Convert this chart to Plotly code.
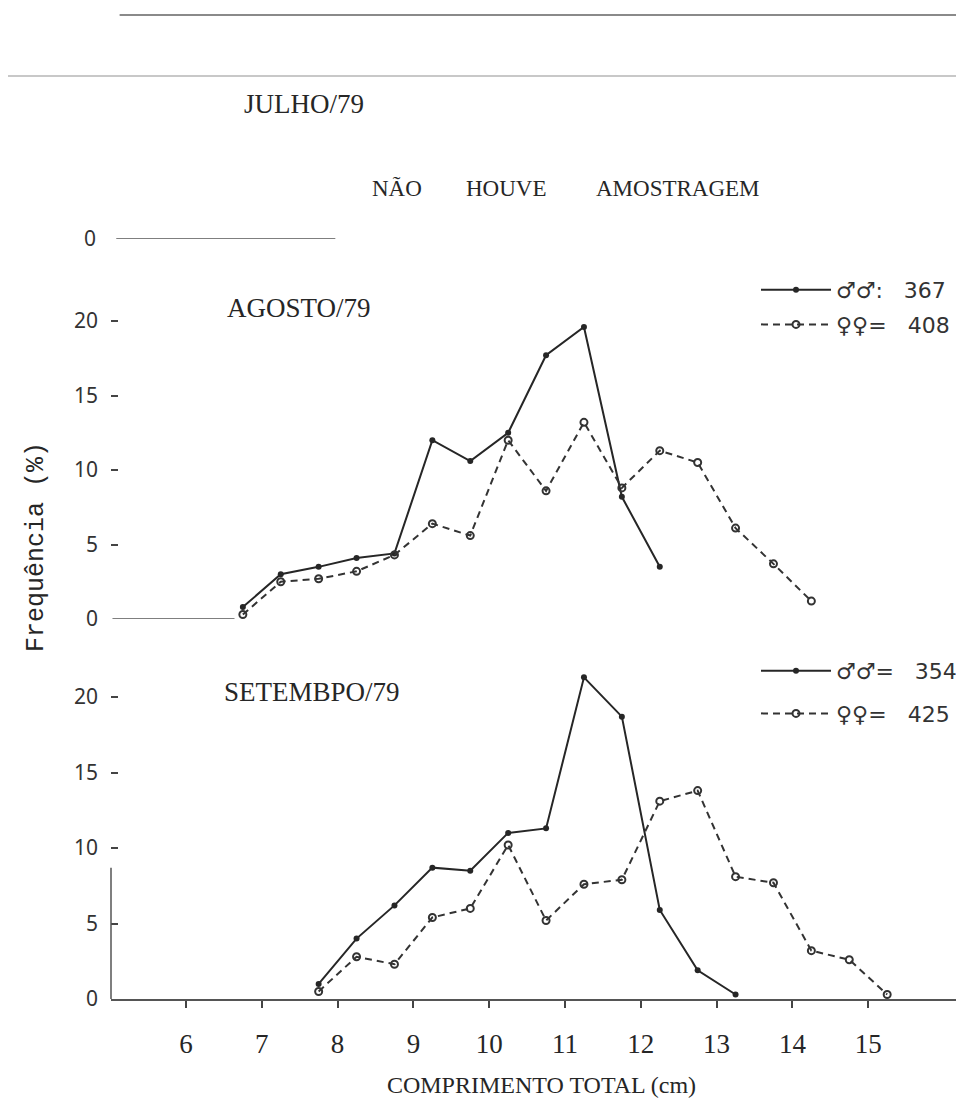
import plotly.graph_objects as go

# ---- data ----
ago_x_m = [6.75, 7.25, 7.75, 8.25, 8.75, 9.25, 9.75, 10.25, 10.75, 11.25, 11.75, 12.25]
ago_m = [0.8, 3.0, 3.5, 4.1, 4.4, 12.0, 10.6, 12.5, 17.7, 19.6, 8.2, 3.5]
ago_x_f = [6.75, 7.25, 7.75, 8.25, 8.75, 9.25, 9.75, 10.25, 10.75, 11.25, 11.75,
           12.25, 12.75, 13.25, 13.75, 14.25]
ago_f = [0.3, 2.5, 2.7, 3.2, 4.3, 6.4, 5.6, 12.0, 8.6, 13.2, 8.8, 11.3, 10.5, 6.1, 3.7, 1.2]

set_x_m = [7.75, 8.25, 8.75, 9.25, 9.75, 10.25, 10.75, 11.25, 11.75, 12.25, 12.75, 13.25]
set_m = [1.0, 4.0, 6.2, 8.7, 8.5, 11.0, 11.3, 21.3, 18.7, 5.9, 1.9, 0.3]
set_x_f = [7.75, 8.25, 8.75, 9.25, 9.75, 10.25, 10.75, 11.25, 11.75, 12.25, 12.75,
           13.25, 13.75, 14.25, 14.75, 15.25]
set_f = [0.5, 2.8, 2.3, 5.4, 6.0, 10.2, 5.2, 7.6, 7.9, 13.1, 13.8, 8.1, 7.7, 3.2, 2.6, 0.3]

x_ticks = [6, 7, 8, 9, 10, 11, 12, 13, 14, 15]
y_ticks = [0, 5, 10, 15, 20]

n_ago = {"m": 367, "f": 408}
n_set = {"m": 354, "f": 425}

INK = "#262626"
INK2 = "#333333"

fig = go.Figure()

def male(x, y, name, yaxis, legend):
    return go.Scatter(x=x, y=y, mode="lines+markers", name=name, yaxis=yaxis,
                      legend=legend, legendgroup=name, cliponaxis=False,
                      line=dict(color=INK, width=2),
                      marker=dict(symbol="circle", size=6, color=INK))

def female(x, y, name, yaxis, legend):
    return go.Scatter(x=x, y=y, mode="lines+markers", name=name, yaxis=yaxis,
                      legend=legend, legendgroup=name, cliponaxis=False,
                      line=dict(color=INK2, width=2, dash="7px,5px"),
                      marker=dict(symbol="circle-open", size=7, color=INK2,
                                  line=dict(width=2, color=INK2)))

fig.add_trace(male(ago_x_m, ago_m, f"♂♂:   {n_ago['m']}", "y2", "legend"))
fig.add_trace(female(ago_x_f, ago_f, f"♀♀=   {n_ago['f']}", "y2", "legend"))
fig.add_trace(male(set_x_m, set_m, f"♂♂=   {n_set['m']}", "y3", "legend2"))
fig.add_trace(female(set_x_f, set_f, f"♀♀=   {n_set['f']}", "y3", "legend2"))

# ---- geometry ----
H_PLOT = 991.0
def fr(px):
    return (H_PLOT - px) / H_PLOT

tickfont_y = dict(family="Noto Sans", size=21, color=INK2)

fig.update_layout(
    template="none",
    width=964, height=1113,
    margin=dict(l=103, r=0, t=0, b=122, autoexpand=False),
    paper_bgcolor="white", plot_bgcolor="white",
    font=dict(family="Liberation Serif", color=INK),
    xaxis=dict(range=[5.0106, 16.369], tickvals=x_ticks,
               ticktext=[str(v) for v in x_ticks], automargin=False,
               showgrid=False, zeroline=False, showline=True,
               linecolor="#555555", linewidth=1.5, anchor="y3",
               ticks="outside", ticklen=7, tickwidth=2, tickcolor="#444444",
               ticklabelstandoff=13,
               tickfont=dict(family="Liberation Serif", size=27, color=INK),
               title=dict(text="COMPRIMENTO TOTAL (cm)", standoff=18,
                          font=dict(family="Liberation Serif", size=24, color=INK))),
    yaxis=dict(domain=[fr(231), fr(150)], range=[0, 81 / 15.0], automargin=False,
               tickvals=[0], ticktext=["0"], showgrid=False, zeroline=False,
               showline=False, ticks="", ticklabelstandoff=14, tickfont=tickfont_y),
    yaxis2=dict(domain=[fr(611), fr(265)], range=[0, (611 - 265) / 14.9],
                automargin=False,
                tickvals=y_ticks, ticktext=[str(v) for v in y_ticks],
                showgrid=False, zeroline=False, showline=False,
                ticks="inside", ticklen=7, tickwidth=2, tickcolor="#444444",
                ticklabelstandoff=12, tickfont=tickfont_y),
    yaxis3=dict(domain=[0, fr(640)], range=[0, (991 - 640) / 15.1],
                automargin=False,
                tickvals=y_ticks, ticktext=[str(v) for v in y_ticks],
                showgrid=False, zeroline=False, showline=False,
                ticks="inside", ticklen=7, tickwidth=2, tickcolor="#444444",
                ticklabelstandoff=12, tickfont=tickfont_y),
    legend=dict(x=(748 - 103) / 861, y=fr(261), xanchor="left", yanchor="top",
                bgcolor="rgba(0,0,0,0)", itemwidth=70, tracegroupgap=3,
                font=dict(family="DejaVu Sans", size=22, color=INK2)),
    legend2=dict(x=(748 - 103) / 861, y=fr(642), xanchor="left", yanchor="top",
                 bgcolor="rgba(0,0,0,0)", itemwidth=70, tracegroupgap=11,
                 font=dict(family="DejaVu Sans", size=22, color=INK2)),
)

# baselines / partial axis lines
fig.add_shape(type="line", xref="x", yref="y", x0=5.08, x1=7.97, y0=0, y1=0,
              line=dict(color="#555555", width=1.5))
fig.add_shape(type="line", xref="x", yref="y2", x0=5.03, x1=6.64, y0=0, y1=0,
              line=dict(color="#555555", width=1.5))
fig.add_shape(type="line", xref="paper", yref="y3", x0=0, x1=0, y0=0, y1=8.7,
              line=dict(color="#555555", width=1.5))

# scanned-page table rules at top
fig.add_shape(type="line", xref="paper", yref="paper", x0=0.01, x1=1.0,
              y0=fr(7), y1=fr(7), line=dict(color="#8a8a8a", width=2))
fig.add_shape(type="line", xref="paper", yref="paper", x0=-0.12, x1=1.0,
              y0=fr(68), y1=fr(68), line=dict(color="#c8c8c8", width=2))

def note(text, xpx, ypx, size=27, anchor="left", family="Liberation Serif"):
    fig.add_annotation(text=text, xref="paper", yref="paper",
                       x=(xpx - 103) / 861, y=fr(ypx), xanchor=anchor, yanchor="middle",
                       showarrow=False, font=dict(family=family, size=size, color=INK))

note("JULHO/79", 234, 96)
note("NÃO", 362, 180, size=23)
note("HOUVE", 456, 180, size=23)
note("AMOSTRAGEM", 586, 180, size=23)
note("AGOSTO/79", 217, 300)
note("SETEMBPO/79", 214, 684)

fig.add_annotation(text="Frequência (%)", xref="paper", yref="paper",
                   x=(28 - 103) / 861, y=fr(539), xanchor="center", yanchor="middle",
                   textangle=-90, showarrow=False,
                   font=dict(family="Liberation Mono", size=25, color=INK))

fig.write_html("out.html")
